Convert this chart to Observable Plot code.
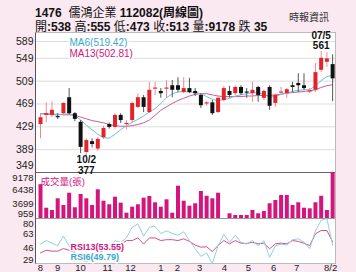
<!DOCTYPE html>
<html><head><meta charset="utf-8">
<script src="https://cdn.jsdelivr.net/npm/d3@7"></script>
<script src="https://cdn.jsdelivr.net/npm/@observablehq/plot@0.6"></script>
<style>
html,body{margin:0;padding:0;background:#fbe9f1;}
#wrap{position:relative;width:356px;height:272px;overflow:hidden;font-family:"Liberation Sans",Arial,"Noto Sans CJK TC",sans-serif;}
#t1{position:absolute;left:35px;top:3px;font-size:12px;font-weight:bold;color:#111;white-space:nowrap;}
#t2{position:absolute;left:35px;top:17px;font-size:12px;color:#111;white-space:nowrap;}
#t2 b{font-weight:bold}
#src{position:absolute;left:289px;top:9px;font-size:10px;color:#333;white-space:nowrap;font-family:"Noto Sans CJK TC",sans-serif;}
#panel{position:absolute;left:35px;top:32px;width:301px;height:232px;background:#fff;border:1px solid #bbb;border-left:1px solid #555;box-sizing:border-box;}
.p{position:absolute;left:0;}
</style></head>
<body><div id="wrap">
<div id="t1">1476&nbsp;&nbsp;<span style="font-weight:normal">儒鴻企業</span> 112082(周線圖)</div>
<div id="t2">開<b>:538</b> 高<b>:555</b> 低<b>:473</b> 收<b>:513</b> 量<b>:9178</b> 跌 <b>35</b></div>
<div id="src">時報資訊</div>
<div id="panel"></div>
<div id="c1" class="p" style="top:33px"></div>
<div id="c2" class="p" style="top:172px"></div>
<div id="c3" class="p" style="top:218px"></div>
</div>
<script>
const open  = [433,449,449,447,452,480,452,437,384,403,390,410,433,428,449,433,440,463,480,454,495,491,495,501,501,489,496,491,484,469,471,454,475,491,487,498,490,487,498,479,498,470,488,487,501,505,501,490,493,528,542,538];
const high  = [452,471,473,452,471,496,454,440,408,408,410,430,436,452,452,440,472,487,484,507,507,496,510,510,515,515,514,496,487,473,475,482,500,500,501,501,496,507,500,493,501,487,498,496,507,522,522,496,540,561,559,555];
const low   = [408,436,445,442,449,450,438,382,377,392,386,407,425,425,435,424,435,461,454,452,484,479,479,480,489,487,487,482,461,465,449,452,473,479,484,484,479,472,472,475,458,463,486,479,489,489,493,487,489,524,533,473];
const close = [445,452,458,445,470,452,442,393,405,398,407,426,428,449,440,435,470,480,463,493,497,487,497,493,493,496,489,487,466,471,452,479,496,484,498,487,488,493,484,491,465,484,490,494,498,501,496,492,524,549,548,513];
const volume= [7000,2800,2390,4480,3280,5480,2870,5250,4480,3280,6090,4050,3410,4770,3700,1910,2980,3410,4590,4890,3770,2980,4300,1910,6730,4050,3160,3590,5780,4940,4480,5480,959,1800,1500,1500,1500,2390,1800,2210,3590,4180,5070,5070,3280,3770,2800,2690,3770,4940,2390,9178];
const ma6   = [452,451,450,450,451,452,449,441,432,424,416,410,409,416,424,431,437,442,448,455,461,470,480,487,490,491,490,489,487,482,477,475,477,479,483,485,487,489,488,486,481,482,486,488,491,493,494,494,501,510,517,519.42];
const ma13  = [452,452,451,451,450,450,449,446,443,440,438,436,433,431,430,430,431,433,436,441,449,458,464,470,475,479,483,486,487,487,485,483,482,482,482,482,483,483,484,484,484,485,486,488,489,490,491,492,494,498,501,502.81];
const rsi6  = [51,55,52,49,60,49,42,33,31,34,40,47,46,55,53,58,70,74,60,70,71,63,66,63,61,65,55,46,37,41,29,49,62,53,61,53,51,55,49,55,36,49,51,50,56,57,53,46,66,78,80,49.79];
const rsi13 = [41,44,43,43,46,44,41,36,35,36,40,44,44,50,50,55,55,58,51,58,58,55,56,56,55,57,54,50,47.5,48,42.6,49.4,55,51.3,55,52,51.7,53,51.3,52,45.6,51.3,52,51.3,55,54,52,49.4,62.6,66.4,66.4,53.55];
const priceTicks = [589,549,509,469,429,389,349];
const volTicks = [9178,6438,3699,959];
const rsiTicks = [80,63,46,29];
const monthLabels = ["8","9","10","11","12","1","2","3","4","5","6","7","8/2"];
const monthAt = [0,3,7,11.7,15.7,21,23.9,27.8,32.1,36.3,40.7,44.7,50.65];
const hiLabel = "07/5", loLabel = "10/2";

const data = close.map((c,i)=>({i,o:open[i],h:high[i],l:low[i],c,v:volume[i],ma6:ma6[i],ma13:ma13[i],r6:rsi6[i],r13:rsi13[i],up:c>=open[i]}));
const xDom = [-0.7, 51.5];
const RED="#e3232c", MAG="#d4157d", CY="#3aa7cc";
const F = '"Liberation Sans",Arial,"Noto Sans CJK TC",sans-serif';
const base = {width:356, marginLeft:36, marginRight:21, style:{background:"transparent",overflow:"visible",fontFamily:F}, x:{domain:xDom, axis:null}};
const lab = (ticks, dyFn, fs) => ticks.map((t,k)=>Plot.text([t],{x:xDom[0], y:d=>d, text:d=>String(d), textAnchor:"end", dx:-3, dy:dyFn(k), fontSize:fs, fill:"#222"}));
const leg = (s, dx, dy, fill, extra) => Plot.text([s],{frameAnchor:"top-left",lineAnchor:"middle",dx,dy,textAnchor:"start",fill,...extra});

const iHi = d3.maxIndex(high), iLo = d3.minIndex(low);
const p1 = Plot.plot({...base, height:139, marginTop:2, marginBottom:0,
  y:{domain:[349,589], axis:null},
  marks:[
    Plot.ruleY(priceTicks.slice(1,-1),{stroke:"#ddd"}),
    Plot.ruleY([priceTicks[0]],{stroke:"#ddd", dy:6}),
    Plot.ruleY([349],{stroke:"#666"}),
    Plot.line(data,{x:"i",y:"ma13",stroke:"#cf5a95",strokeWidth:1}),
    Plot.line(data,{x:"i",y:"ma6",stroke:"#6cc0d8",strokeWidth:1}),
    Plot.ruleX(data,{x:"i",y1:"l",y2:"h",stroke:d=>d.up?"#ee8a90":"#555",strokeWidth:1}),
    Plot.ruleX(data,{x:"i",y1:"o",y2:"c",stroke:d=>d.up?RED:"#111",strokeWidth:4}),
    ...lab(priceTicks, k=> k===0?6:(k===priceTicks.length-1?-7:0), 10.5),
    leg(`MA6(${ma6[ma6.length-1].toFixed(2)})`, 33, 7, CY, {fontSize:10,stroke:"white",strokeWidth:4}),
    leg(`MA13(${ma13[ma13.length-1].toFixed(2)})`, 33, 18, MAG, {fontSize:10,stroke:"white",strokeWidth:4}),
    Plot.text([data[iHi]],{x:"i",y:"h",text:d=>String(d.h),dy:-6,fontSize:10,fontWeight:"bold",fill:"#111"}),
    Plot.text([data[iHi]],{x:"i",y:"h",text:()=>hiLabel,dy:-16,fontSize:10,fontWeight:"bold",fill:"#111"}),
    Plot.text([data[iLo]],{x:"i",y:"l",text:()=>loLabel,dy:3.5,fontSize:10,fontWeight:"bold",fill:"#111"}),
    Plot.text([data[iLo]],{x:"i",y:"l",text:d=>String(d.l),dy:14.5,fontSize:10,fontWeight:"bold",fill:"#111"})
  ]});
document.getElementById("c1").appendChild(p1);

const vMin = d3.min(volume), vMax = d3.max(volume);
const p2 = Plot.plot({...base, height:46, marginTop:0, marginBottom:0,
  y:{domain:[vMin,vMax], axis:null},
  marks:[
    Plot.ruleX(data,{x:"i",y1:vMin,y2:"v",stroke:MAG,strokeWidth:4}),
    Plot.ruleY([vMin],{stroke:"#999"}),
    ...lab(volTicks, k=>[5,2,1,-4.5][k], 9.5),
    leg("成交量(張)", 4, 9, MAG, {fontSize:9.5})
  ]});
document.getElementById("c2").appendChild(p2);

const p3 = Plot.plot({...base, height:59, marginTop:0, marginBottom:14,
  y:{domain:[d3.min(rsi6),d3.max(rsi6)], axis:null},
  marks:[
    Plot.line(data,{x:"i",y:"r13",stroke:"#d2508f",strokeWidth:1}),
    Plot.line(data,{x:"i",y:"r6",stroke:"#8fd0e2",strokeWidth:1}),
    ...lab(rsiTicks, k=>[5,0,-0.5,-4][k], 9.5),
    leg(`RSI13(${rsi13[rsi13.length-1].toFixed(2)})`, 34, 28.5, MAG, {fontSize:9,fontWeight:"bold",stroke:"white",strokeWidth:3}),
    leg(`RSI6(${rsi6[rsi6.length-1].toFixed(2)})`, 34, 38.5, CY, {fontSize:9,fontWeight:"bold",stroke:"white",strokeWidth:3}),
    Plot.text(monthLabels,{x:(d,k)=>monthAt[k],frameAnchor:"bottom",lineAnchor:"middle",dy:4,fontSize:9.5,fill:"#222"})
  ]});
document.getElementById("c3").appendChild(p3);
</script>
</body></html>
